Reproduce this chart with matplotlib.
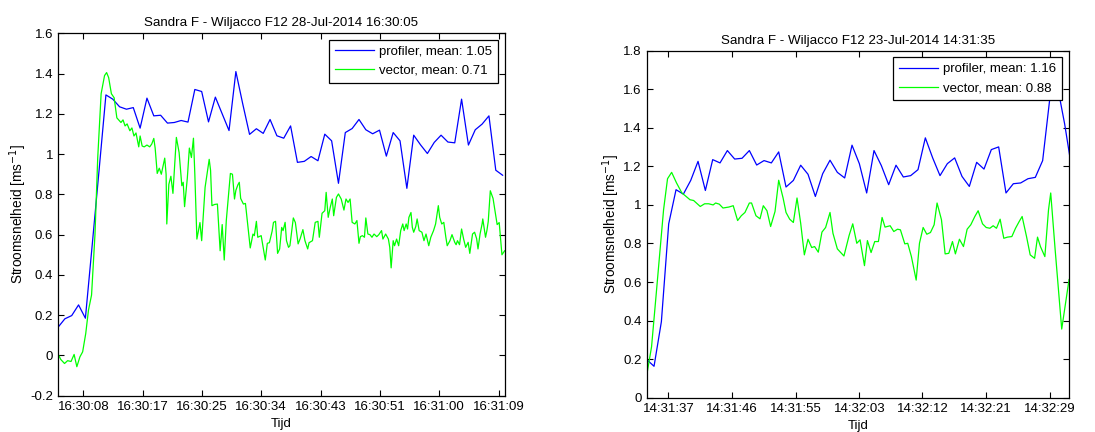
import numpy as np
import matplotlib
matplotlib.use("Agg")
import matplotlib.pyplot as plt
from matplotlib.ticker import FormatStrFormatter

plt.rcParams["font.family"] = ["Liberation Sans", "DejaVu Sans"]

# ---------------- left panel: 28-Jul-2014 ----------------
title_a = "Sandra F - Wiljacco F12 28-Jul-2014 16:30:05"
legend_a = ["profiler, mean: 1.05", "vector, mean: 0.71"]
ticks_a = [3.7, 12.4, 21.0, 29.7, 38.4, 47.1, 55.7, 64.4]
ticklabels_a = ["16:30:08", "16:30:17", "16:30:25", "16:30:34",
                "16:30:43", "16:30:51", "16:31:00", "16:31:09"]
# profiler, 1 sample per second
profiler_a = [0.14, 0.182, 0.198, 0.251, 0.185, 0.55, 0.92, 1.294, 1.273, 1.235,
              1.223, 1.231, 1.129, 1.278, 1.19, 1.193, 1.154, 1.157, 1.167, 1.159,
              1.321, 1.311, 1.16, 1.283, 1.2, 1.117, 1.41, 1.25, 1.098, 1.126,
              1.103, 1.172, 1.091, 1.079, 1.14, 0.959, 0.964, 0.988, 0.967, 1.099,
              1.066, 0.855, 1.107, 1.127, 1.172, 1.121, 1.101, 1.119, 0.99, 1.107,
              1.066, 0.83, 1.094, 1.046, 1.003, 1.058, 1.094, 1.06, 1.056, 1.273,
              1.045, 1.121, 1.149, 1.19, 0.92, 0.895]
vector_a_t = [0, 0.4, 0.95, 1.4, 1.9, 2.35, 2.75, 3.2, 3.6, 4.05, 4.45, 4.9, 5.4, 5.8,
              6.3, 6.8, 7.1, 7.4, 7.8, 8.2, 8.6, 9.2, 9.5, 9.8, 10.1, 10.5, 10.8, 11.1,
              11.4, 11.8, 12.0, 12.3, 12.6, 13.0, 13.4, 13.7, 14.0, 14.2, 14.5, 14.8,
              15.1, 15.6, 15.8, 15.9, 16.2, 16.5, 16.8, 17.3, 17.7, 18.1, 18.3, 18.5,
              18.9, 19.2, 19.5, 19.8, 20.0, 20.3, 20.75, 21.0, 21.5, 22.1, 22.3, 22.5,
              22.9, 23.3, 23.7, 24.0, 24.3, 24.6, 25.2, 25.5, 25.8, 26.0, 26.3, 26.5,
              26.7, 27.1, 27.4, 28.1, 28.5, 28.7, 29.0, 29.2, 29.7, 30.3, 30.6, 30.9,
              31.3, 31.5, 31.8, 32.1, 32.4, 32.7, 32.9, 33.2, 33.4, 33.7, 33.9, 34.4,
              34.7, 35.1, 35.4, 35.8, 36.1, 36.5, 36.7, 37.2, 37.6, 38.0, 38.2, 38.6,
              39.0, 39.2, 39.5, 39.8, 40.1, 40.3, 40.7, 41.0, 41.4, 41.8, 42.1, 42.4,
              42.7, 43.0, 43.4, 43.7, 44.0, 44.2, 44.5, 44.8, 45.0, 45.3, 45.6, 45.9,
              46.2, 46.6, 46.9, 47.3, 47.5, 47.9, 48.3, 48.5, 48.7, 49.0, 49.2, 49.5,
              49.8, 50.1, 50.4, 50.6, 50.9, 51.1, 51.3, 51.6, 51.8, 52.0, 52.3, 52.5,
              52.8, 53.2, 53.5, 53.8, 54.2, 54.5, 54.9, 55.2, 55.6, 55.8, 56.1, 56.4,
              56.7, 56.9, 57.3, 57.6, 58.0, 58.2, 58.4, 58.7, 59.0, 59.3, 59.6, 59.96,
              60.2, 60.6, 60.9, 61.2, 61.4, 61.7, 62.0, 62.1, 62.5, 62.7, 62.9, 63.2,
              63.6, 64.2, 64.5, 64.9, 65.3]
vector_a = [0.007, -0.02, -0.04, -0.026, -0.03, 0.005, -0.056, -0.007, 0.018, 0.109,
            0.225, 0.3, 0.6, 0.98, 1.3, 1.39, 1.405, 1.38, 1.3, 1.28, 1.18, 1.157,
            1.17, 1.14, 1.15, 1.116, 1.13, 1.09, 1.105, 1.036, 1.09, 1.04, 1.036, 1.045,
            1.036, 1.05, 1.078, 1.03, 0.904, 0.93, 0.9, 0.98, 0.9, 0.653, 0.85, 0.89,
            0.805, 1.083, 1.008, 0.843, 0.86, 0.739, 0.88, 1.03, 0.983, 1.079, 0.9,
            0.578, 0.66, 0.57, 0.835, 0.974, 0.92, 0.744, 0.75, 0.752, 0.52, 0.65, 0.474,
            0.67, 0.904, 0.9, 0.777, 0.82, 0.848, 0.86, 0.78, 0.752, 0.755, 0.534,
            0.603, 0.595, 0.666, 0.587, 0.595, 0.474, 0.557, 0.56, 0.617, 0.661, 0.666,
            0.507, 0.529, 0.636, 0.62, 0.661, 0.57, 0.537, 0.545, 0.683, 0.66, 0.554,
            0.58, 0.625, 0.57, 0.529, 0.56, 0.57, 0.661, 0.666, 0.587, 0.706, 0.719,
            0.81, 0.686, 0.736, 0.777, 0.694, 0.785, 0.802, 0.777, 0.722, 0.777, 0.76,
            0.777, 0.661, 0.653, 0.67, 0.557, 0.59, 0.595, 0.587, 0.683, 0.603, 0.6,
            0.587, 0.603, 0.59, 0.6, 0.62, 0.578, 0.603, 0.578, 0.537, 0.435, 0.57,
            0.545, 0.578, 0.545, 0.62, 0.653, 0.62, 0.653, 0.628, 0.686, 0.71, 0.636,
            0.612, 0.64, 0.678, 0.62, 0.612, 0.57, 0.603, 0.545, 0.587, 0.62, 0.653,
            0.744, 0.686, 0.653, 0.661, 0.587, 0.545, 0.57, 0.6, 0.562, 0.55, 0.57,
            0.55, 0.628, 0.578, 0.537, 0.562, 0.507, 0.603, 0.612, 0.58, 0.529, 0.603,
            0.653, 0.678, 0.587, 0.62, 0.666, 0.818, 0.78, 0.65, 0.66, 0.5, 0.52]

# ---------------- right panel: 23-Jul-2014 ----------------
title_b = "Sandra F - Wiljacco F12 23-Jul-2014 14:31:35"
legend_b = ["profiler, mean: 1.16", "vector, mean: 0.88"]
ticks_b = [2.95, 11.6, 20.3, 29.0, 37.6, 46.3, 55.0]
ticklabels_b = ["14:31:37", "14:31:46", "14:31:55", "14:32:03",
                "14:32:12", "14:32:21", "14:32:29"]
profiler_b = [0.198, 0.163, 0.394, 0.902, 1.079, 1.056, 1.127, 1.226, 1.075, 1.235,
              1.218, 1.282, 1.238, 1.242, 1.282, 1.207, 1.23, 1.218, 1.275, 1.093,
              1.127, 1.206, 1.159, 1.044, 1.162, 1.232, 1.169, 1.14, 1.31, 1.214,
              1.062, 1.282, 1.204, 1.105, 1.206, 1.145, 1.152, 1.183, 1.348, 1.244,
              1.152, 1.214, 1.244, 1.148, 1.096, 1.221, 1.186, 1.287, 1.301, 1.062,
              1.11, 1.114, 1.136, 1.143, 1.23, 1.56, 1.62, 1.42, 1.18]
vector_b_t = [0, 0.66, 1.3, 2.3, 2.84, 3.4, 4.07, 4.8, 5.25, 5.9, 6.4, 7.3, 7.9, 8.45,
              9.06, 9.4, 9.9, 10.4, 11.2, 11.8, 12.4, 12.9, 13.4, 14.0, 14.3, 14.9,
              15.45, 15.9, 16.4, 16.9, 17.5, 18.0, 18.6, 19.0, 19.5, 20.0, 20.5, 21.0,
              21.5, 22.0, 22.5, 22.9, 23.4, 23.9, 24.4, 25.0, 25.4, 26.0, 26.9, 27.6,
              28.1, 28.65, 29.1, 29.7, 30.1, 30.6, 31.1, 31.6, 32.1, 32.5, 33.2, 33.7,
              34.2, 34.6, 35.2, 35.6, 36.1, 36.75, 37.2, 37.7, 38.2, 38.7, 39.2, 39.6,
              40.2, 40.7, 41.2, 41.7, 42.1, 42.65, 43.2, 43.7, 44.2, 44.75, 45.2, 45.8,
              46.3, 46.8, 47.25, 47.7, 48.2, 48.7, 49.2, 49.8, 50.3, 50.8, 51.2, 51.8,
              52.3, 52.9, 53.3, 53.7, 54.3, 54.8, 55.1, 55.7, 56.6, 57.6]
vector_b = [0.116, 0.264, 0.54, 0.975, 1.136, 1.169, 1.114, 1.062, 1.048, 1.027,
            1.023, 0.992, 1.006, 1.006, 1.0, 1.01, 1.004, 0.984, 0.989, 0.996, 0.919,
            0.944, 0.961, 1.01, 1.01, 0.944, 0.928, 0.996, 0.97, 0.888, 0.966, 1.128,
            1.036, 0.961, 0.926, 0.909, 1.036, 0.905, 0.741, 0.822, 0.779, 0.784, 0.755,
            0.859, 0.883, 0.961, 0.853, 0.772, 0.735, 0.841, 0.902, 0.801, 0.819, 0.685,
            0.815, 0.753, 0.81, 0.81, 0.935, 0.885, 0.892, 0.862, 0.874, 0.871, 0.798,
            0.801, 0.732, 0.61, 0.801, 0.883, 0.848, 0.857, 0.897, 1.01, 0.923, 0.746,
            0.749, 0.81, 0.746, 0.822, 0.784, 0.874, 0.897, 0.94, 0.97, 0.902, 0.883,
            0.879, 0.892, 0.879, 0.926, 0.827, 0.833, 0.836, 0.879, 0.914, 0.94, 0.836,
            0.741, 0.723, 0.833, 0.784, 0.732, 0.975, 1.062, 0.77, 0.356, 0.613]


def draw_panel(ax, title, labels, prof, vec_t, vec, ticks, ticklabels, xmax, ylim, yticks):
    t_prof = np.arange(len(prof))
    ax.plot(t_prof, prof, color=(0, 0, 1), lw=0.9, label=labels[0])
    ax.plot(vec_t, vec, color=(0, 1, 0), lw=0.9, label=labels[1])
    ax.set_xlim(0, xmax)
    ax.set_ylim(*ylim)
    ax.set_xticks(ticks)
    ax.set_xticklabels(ticklabels)
    ax.set_yticks(yticks)
    ax.yaxis.set_major_formatter(FormatStrFormatter("%g"))
    ax.tick_params(direction="in", top=True, right=True, length=4,
                   labelsize=9.5, width=0.8)
    for s in ax.spines.values():
        s.set_linewidth(0.9)
    ax.set_title(title, fontsize=9.6, pad=5)
    ax.set_xlabel("Tijd", fontsize=9.5, labelpad=4)
    ax.set_ylabel("Stroomsnelheid [ms$^{-1}$]", fontsize=9.8, labelpad=1)
    leg = ax.legend(loc="upper right", fontsize=9.5, fancybox=False,
                    framealpha=1, edgecolor="black", handlelength=3.0,
                    handletextpad=0.4, borderaxespad=0.5, borderpad=0.45,
                    labelspacing=0.5)
    leg.get_frame().set_linewidth(0.9)


fig = plt.figure(figsize=(10.95, 4.32), dpi=100)
ax1 = fig.add_axes([0.053, 0.084, 0.4082, 0.8389])
ax2 = fig.add_axes([0.5906, 0.0794, 0.3857, 0.8032])

draw_panel(ax1, title_a, legend_a, profiler_a, vector_a_t, vector_a, ticks_a,
           ticklabels_a, 65.35, (-0.2, 1.6), np.arange(-0.2, 1.61, 0.2))
draw_panel(ax2, title_b, legend_b, profiler_b, vector_b_t, vector_b, ticks_b,
           ticklabels_b, 57.6, (0, 1.8), np.arange(0, 1.81, 0.2))

fig.savefig("out.png", dpi=100)
